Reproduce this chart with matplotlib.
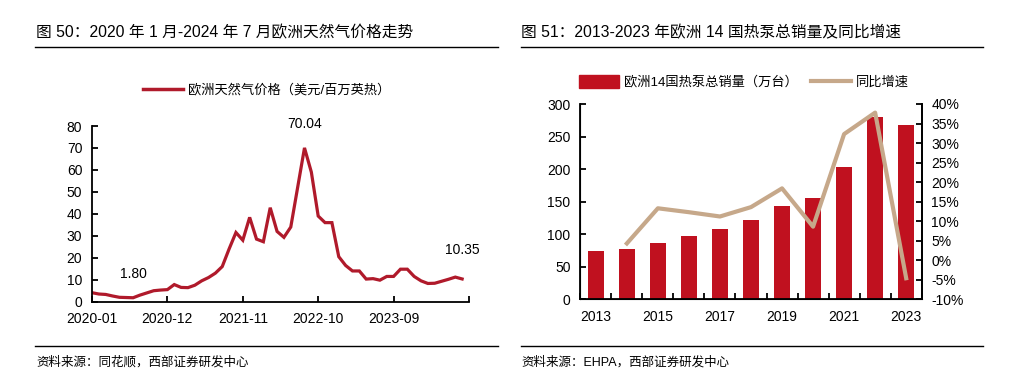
import matplotlib
matplotlib.use("Agg")
import matplotlib.pyplot as plt
from matplotlib.lines import Line2D
from matplotlib.patches import Patch
from matplotlib.ticker import FuncFormatter
import numpy as np

plt.rcParams['font.family'] = ['Liberation Sans', 'Noto Sans CJK SC', 'DejaVu Sans']
plt.rcParams['axes.unicode_minus'] = False

# ---- Left chart data: European natural gas price (USD/MMBtu), monthly 2020-01 .. 2024-07
gas_price = [4.1, 3.5, 3.3, 2.6, 2.0, 1.9, 1.80, 3.0, 4.0, 5.0, 5.3, 5.5,
             7.8, 6.5, 6.4, 7.5, 9.5, 11.0, 13.0, 16.0, 24.0, 31.5, 28.0, 38.4,
             28.5, 27.3, 42.8, 32.0, 29.3, 34.0, 52.0, 70.04, 59.0, 39.0, 36.0, 36.0,
             20.5, 16.5, 14.0, 14.0, 10.3, 10.5, 9.8, 11.5, 11.5, 14.8, 14.8, 11.5,
             9.5, 8.3, 8.4, 9.3, 10.2, 11.2, 10.35]
gas_tick_labels = ['2020-01', '2020-12', '2021-11', '2022-10', '2023-09', '']
gas_annot = {6: '1.80', 31: '70.04', 54: '10.35'}

# ---- Right chart data: heat pump sales in 14 European countries
years = ['2013', '2014', '2015', '2016', '2017', '2018', '2019', '2020', '2021', '2022', '2023']
sales = [73.7, 77.3, 86.5, 97.3, 107.5, 121.9, 143.4, 155.7, 203.3, 280.0, 267.3]
growth = [None, 4.3, 13.3, 12.3, 11.2, 13.6, 18.4, 8.6, 32.3, 37.8, -4.6]

RED_LINE = '#B01A2B'
BAR_RED = '#C0111F'
TAN = '#C6A88A'

W, H = 1009, 391
fig = plt.figure(figsize=(W / 100, H / 100), dpi=100)

def fx(px):
    return px / W

def fy(py):
    return 1 - py / H

# Titles
fig.text(fx(36), fy(33), '图 50：2020 年 1 月-2024 年 7 月欧洲天然气价格走势',
         fontsize=11.3, va='center', ha='left')
fig.text(fx(521), fy(33), '图 51：2013-2023 年欧洲 14 国热泵总销量及同比增速',
         fontsize=11.3, va='center', ha='left')
# Rules
for (x0, x1, y) in [(35, 498, 47.3), (521, 983, 47.3), (35, 498, 346), (521, 983, 346)]:
    fig.add_artist(Line2D([fx(x0), fx(x1)], [fy(y), fy(y)], transform=fig.transFigure,
                          color='black', lw=1.0))
# Sources
fig.text(fx(36), fy(362), '资料来源：同花顺，西部证券研发中心', fontsize=9, va='center', ha='left')
fig.text(fx(521), fy(362), '资料来源：EHPA，西部证券研发中心', fontsize=9, va='center', ha='left')

# ---- Left axes
ax1 = fig.add_axes([fx(92), fy(301.7), fx(469) - fx(92), fy(126) - fy(301.7)])
x = np.arange(len(gas_price))
ax1.plot(x, gas_price, color=RED_LINE, lw=2.3, solid_joinstyle='miter')
ax1.set_xlim(0, 55)
ax1.set_ylim(0, 80)
ax1.set_yticks(np.arange(0, 81, 10))
ax1.set_xticks(np.arange(0, 56, 11))
ax1.set_xticklabels(gas_tick_labels)
for s in ['top', 'right']:
    ax1.spines[s].set_visible(False)
for s in ['left', 'bottom']:
    ax1.spines[s].set_linewidth(1.3)
ax1.tick_params(axis='both', direction='in', length=4, width=1.3, labelsize=10)
ax1.tick_params(axis='y', pad=7)
ax1.tick_params(axis='x', pad=7.5)
for i, t in gas_annot.items():
    off = 12 if i != 54 else 16
    ax1.annotate(t, (i, gas_price[i]), xytext=(0, off), textcoords='offset points',
                 ha='center', va='bottom', fontsize=10)
ax1.legend(handles=[Line2D([], [], color=RED_LINE, lw=2.5)],
           labels=['欧洲天然气价格（美元/百万英热）'],
           loc='center', bbox_to_anchor=(fx(267), fy(90)), bbox_transform=fig.transFigure,
           frameon=False, fontsize=9.5, handlelength=3.0, handletextpad=0.4)

# ---- Right axes
ax2 = fig.add_axes([fx(580.3), fy(299.3), fx(921.7) - fx(580.3), fy(104) - fy(299.3)])
xi = np.arange(len(years))
ax2.bar(xi, sales, width=0.53, color=BAR_RED)
ax2.set_xlim(-0.5, 10.5)
ax2.set_ylim(0, 300)
ax2.set_yticks(np.arange(0, 301, 50))
ax2.set_xticks(np.arange(-0.5, 10.6, 1.0))
ax2.set_xticklabels([])
ax2.set_xticks(xi[::2], minor=True)
ax2.set_xticklabels([years[i] for i in xi[::2]], minor=True)
ax2.tick_params(axis='x', which='minor', length=0, pad=8, labelsize=10)
ax2.tick_params(axis='x', which='major', direction='in', length=4, width=1.3)
ax2.tick_params(axis='y', direction='in', length=4, width=1.3, labelsize=10, pad=7)
ax2.spines['top'].set_visible(False)
for s in ['left', 'bottom', 'right']:
    ax2.spines[s].set_linewidth(1.3)

ax3 = ax2.twinx()
gx = [i for i, g in enumerate(growth) if g is not None]
gy = [g for g in growth if g is not None]
ax3.plot(gx, gy, color=TAN, lw=3.0)
ax3.set_ylim(-10, 40)
ax3.set_yticks(np.arange(-10, 41, 5))
ax3.yaxis.set_major_formatter(FuncFormatter(lambda v, p: f'{v:.0f}%'))
ax3.tick_params(axis='y', direction='in', length=4, width=1.3, labelsize=10, pad=7)
ax3.spines['top'].set_visible(False)
ax3.spines['right'].set_linewidth(1.3)

fig.legend(handles=[Patch(color=BAR_RED), Line2D([], [], color=TAN, lw=3.0)],
           labels=['欧洲14国热泵总销量（万台）', '同比增速'],
           loc='center', bbox_to_anchor=(fx(744), fy(82)), bbox_transform=fig.transFigure,
           ncol=2, frameon=False, fontsize=9.5, handlelength=3.0, handleheight=1.1,
           handletextpad=0.4, columnspacing=1.0)

fig.savefig('out.png', dpi=100)
